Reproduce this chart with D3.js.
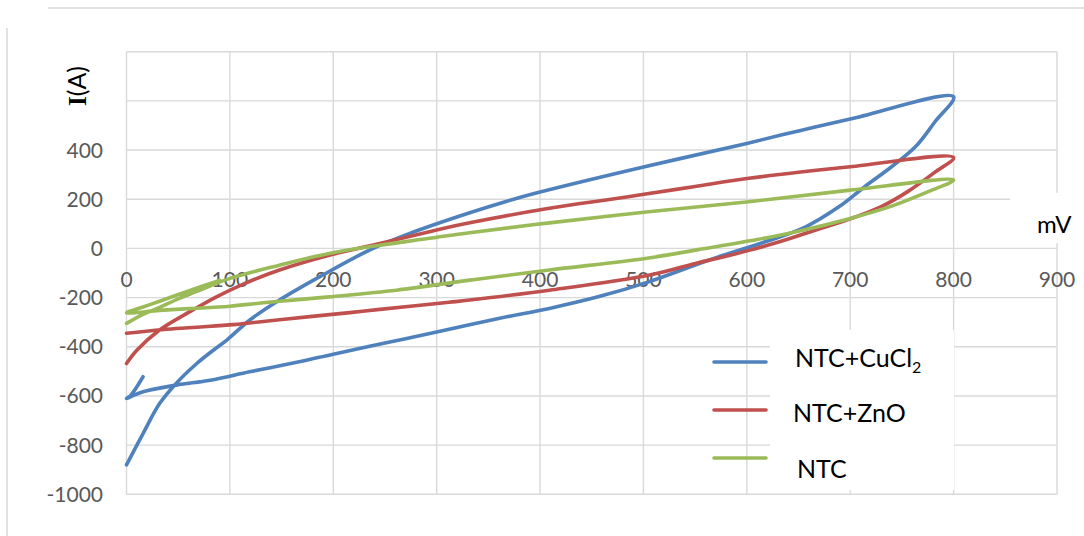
<!DOCTYPE html>
<html>
<head>
<meta charset="utf-8">
<script src="https://cdn.jsdelivr.net/npm/d3@7"></script>
<style>
  html, body { margin: 0; padding: 0; background: #fff; }
  svg { display: block; }
  text { font-family: Lato, "Liberation Sans", sans-serif; }
</style>
</head>
<body>
<svg id="chart" width="1084" height="536"></svg>
<script>
// Cyclic I–V sweeps: [voltage mV, current]
const cuCl2 = [
  [0,-880],[16,-753],[32,-631],[48,-549],[68,-468],[84,-414],[97,-373],[119,-292],
  [148,-210],[187,-115],[235,-7],[274,61],[332,145],[368,192],[399,228],[499,330],
  [600,427],[650,478],[700,526],[800,617],
  [782,515],[763,413],[740,332],[714,251],[689,169],[657,88],[620,30],[563,-48],
  [505,-136],[457,-196],[409,-244],[361,-284],[300,-340],[250,-385],[200,-430],
  [167,-461],[119,-502],[81,-536],[48,-556],[16,-583],[0,-610],[4,-598],[16,-522]
];
const znO = [
  [0,-468],[10,-414],[32,-332],[64,-251],[87,-197],[113,-145],[148,-88],[197,-27],
  [245,20],[293,68],[332,104],[409,163],[467,199],[499,219],[550,252],[602,285],
  [650,310],[700,332],[800,370],
  [782,310],[756,232],[730,170],[700,120],[666,74],[634,30],[602,-8],[570,-42],
  [553,-58],[505,-109],[409,-170],[332,-210],[312,-219],[245,-248],[216,-261],
  [148,-290],[119,-303],[103,-310],[48,-326],[0,-345]
];
const ntc = [
  [0,-305],[16,-268],[32,-240],[50,-205],[68,-175],[100,-122],[148,-68],[197,-20],
  [245,13],[293,41],[332,64],[409,104],[505,149],[602,190],[700,237],[800,278],
  [776,232],[740,172],[700,122],[650,70],[610,36],[553,-5],[505,-39],[409,-88],
  [332,-129],[261,-170],[196,-197],[132,-221],[100,-235],[60,-245],[32,-252],[0,-262],
  [16,-238],[32,-215],[60,-173],[90,-130]
];

const seriesNames = ["NTC+CuCl", "NTC+ZnO", "NTC"];
const seriesSubs = ["2", "", ""];
const seriesData = [cuCl2, znO, ntc];
const seriesColors = ["#4F81BD", "#C0504D", "#9BBB59"];

const xTicks = [0,100,200,300,400,500,600,700,800,900];
const yGrid = [-1000,-800,-600,-400,-200,0,200,400,600,800];
const yTickLabels = [-1000,-800,-600,-400,-200,0,200,400];

const svg = d3.select("#chart");
const x = d3.scaleLinear().domain([0, 900]).range([126.5, 1057]);
const y = d3.scaleLinear().domain([-1000, 800]).range([494.3, 51.7]);

// outer chart frame fragments
svg.append("line").attr("x1", 48).attr("x2", 1084).attr("y1", 8).attr("y2", 8)
  .attr("stroke", "#d9d9d9").attr("stroke-width", 1.5);
svg.append("line").attr("x1", 7).attr("x2", 7).attr("y1", 28).attr("y2", 536)
  .attr("stroke", "#d9d9d9").attr("stroke-width", 1.5);

// gridlines
const grid = svg.append("g").attr("stroke", "#d9d9d9").attr("stroke-width", 1.4);
grid.selectAll(".v").data(xTicks).join("line")
  .attr("x1", d => x(d)).attr("x2", d => x(d))
  .attr("y1", y(800)).attr("y2", y(-1000));
grid.selectAll(".h").data(yGrid).join("line")
  .attr("x1", x(0)).attr("x2", x(900))
  .attr("y1", d => y(d)).attr("y2", d => y(d));

// y tick labels
svg.append("g").selectAll("text").data(yTickLabels).join("text")
  .attr("x", 103).attr("y", d => y(d) + 7.5)
  .attr("text-anchor", "end").attr("font-size", 21).attr("fill", "#595959")
  .text(d => d);

// x tick labels sit just under the zero line
svg.append("g").selectAll("text").data(xTicks).join("text")
  .attr("x", d => x(d)).attr("y", y(0) + 39)
  .attr("text-anchor", "middle").attr("font-size", 21).attr("fill", "#595959")
  .text(d => d);

// series
const line = d3.line().x(d => x(d[0])).y(d => y(d[1])).curve(d3.curveCatmullRom.alpha(0.5));
svg.append("g").selectAll("path").data(seriesData).join("path")
  .attr("d", line)
  .attr("fill", "none")
  .attr("stroke", (d, i) => seriesColors[i])
  .attr("stroke-width", 3.6)
  .attr("stroke-linejoin", "round")
  .attr("stroke-linecap", "round");

// y axis title
const yt = svg.append("text")
  .attr("transform", "translate(86,86) rotate(-90)")
  .attr("text-anchor", "middle").attr("font-size", 25).attr("fill", "#000");
yt.append("tspan").attr("font-family", "'Liberation Serif', serif").attr("font-weight", "bold").text("I");
yt.append("tspan").text("(A)");

// x axis unit label
svg.append("rect").attr("x", 1010).attr("y", 193).attr("width", 74).attr("height", 50).attr("fill", "#fff");
svg.append("text").attr("x", 1037).attr("y", 233).attr("font-size", 24).attr("fill", "#000").text("mV");

// legend
const legend = svg.append("g");
legend.append("rect").attr("x", 770).attr("y", 330).attr("width", 184).attr("height", 160).attr("fill", "#fff");
const rowsY = [362, 410, 458];
const textY = [367, 422, 478];
const textX = [795, 793, 797];
seriesNames.forEach((name, i) => {
  legend.append("line")
    .attr("x1", 714).attr("x2", 766).attr("y1", rowsY[i]).attr("y2", rowsY[i])
    .attr("stroke", seriesColors[i]).attr("stroke-width", 3.6).attr("stroke-linecap", "round");
  const t = legend.append("text").attr("x", textX[i]).attr("y", textY[i])
    .attr("font-size", 25).attr("fill", "#000");
  t.append("tspan").text(name);
  if (seriesSubs[i]) t.append("tspan").attr("font-size", 16).attr("dy", 6).text(seriesSubs[i]);
});
</script>
</body>
</html>
